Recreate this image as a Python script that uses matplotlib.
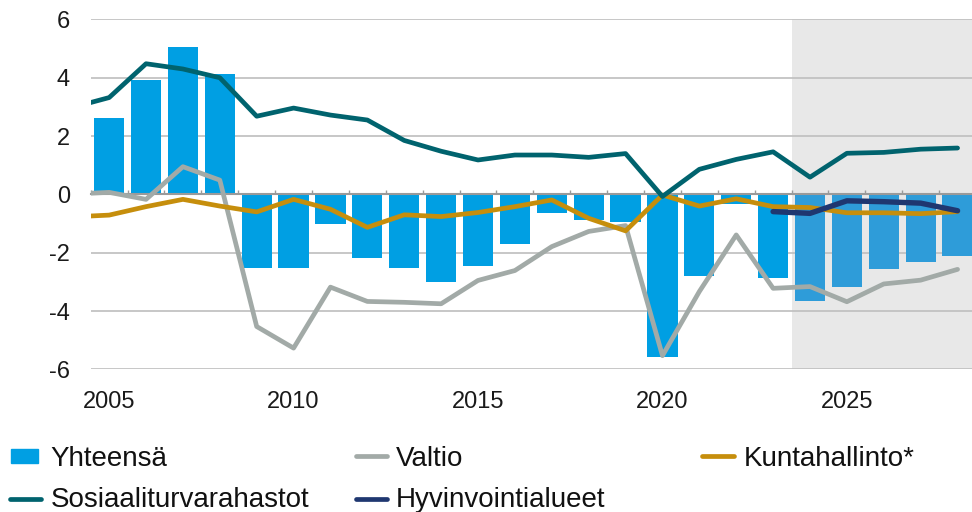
import numpy as np
import matplotlib.pyplot as plt
from matplotlib.patches import Rectangle
from matplotlib.lines import Line2D

plt.rcParams['font.family'] = ['Liberation Sans', 'DejaVu Sans']
plt.rcParams['axes.unicode_minus'] = False

# Data, % of GDP
bar_years = list(range(2005, 2029))
yhteensa = [2.62, 3.92, 5.07, 4.14, -2.51, -2.54, -1.03, -2.17, -2.52, -2.99, -2.44, -1.71,
            -0.65, -0.87, -0.95, -5.57, -2.81, -0.32, -2.88, -3.66, -3.19, -2.55, -2.32, -2.12]

line_years = list(range(2004, 2029))
valtio = [0.01, 0.07, -0.17, 0.95, 0.49, -4.53, -5.27, -3.18, -3.67, -3.70, -3.75, -2.95, -2.61,
          -1.79, -1.27, -1.07, -5.53, -3.33, -1.39, -3.22, -3.16, -3.68, -3.07, -2.94, -2.57]
kuntahallinto = [-0.77, -0.71, -0.42, -0.17, -0.40, -0.60, -0.17, -0.51, -1.13, -0.70, -0.76, -0.62, -0.42,
                 -0.19, -0.82, -1.25, -0.02, -0.40, -0.15, -0.42, -0.45, -0.63, -0.63, -0.66, -0.59]
sosiaaliturva = [2.98, 3.32, 4.48, 4.30, 4.00, 2.68, 2.96, 2.72, 2.55, 1.85, 1.48, 1.18, 1.35,
                 1.35, 1.27, 1.40, -0.07, 0.86, 1.20, 1.46, 0.59, 1.41, 1.44, 1.55, 1.59]

hyvinvointi_years = list(range(2023, 2029))
hyvinvointi = [-0.59, -0.65, -0.22, -0.25, -0.30, -0.56]

forecast_start = 2024
label_years = [2005, 2010, 2015, 2020, 2025]

C_BAR = '#009FE3'
C_BAR_FC = '#2E9CD9'
C_VALTIO = '#A2AAA7'
C_KUNTA = '#C68E0C'
C_SOSI = '#00636E'
C_HYVI = '#1F3770'

W, H = 972, 512
fig = plt.figure(figsize=(W / 100, H / 100), dpi=100)
ax = fig.add_axes([90.7 / W, 1 - 369.4 / H, (976 - 90.7) / W, 350 / H])

# forecast shading
ax.axvspan(forecast_start - 0.5, 2029, color='#E8E8E8', lw=0, zorder=0)

colors = [C_BAR_FC if y >= forecast_start else C_BAR for y in bar_years]
ax.bar(bar_years, yhteensa, width=0.82, color=colors, zorder=1.5)

lw = 3.4
ax.plot(line_years, valtio, color=C_VALTIO, lw=lw, zorder=3, solid_capstyle='round', solid_joinstyle='round')
ax.plot(line_years, kuntahallinto, color=C_KUNTA, lw=lw, zorder=3, solid_capstyle='round', solid_joinstyle='round')
ax.plot(line_years, sosiaaliturva, color=C_SOSI, lw=lw, zorder=3, solid_capstyle='round', solid_joinstyle='round')
ax.plot(hyvinvointi_years, hyvinvointi, color=C_HYVI, lw=3.9, zorder=3, solid_capstyle='round', solid_joinstyle='round')

ax.set_xlim(2004.5, 2028.5)
ax.set_ylim(-6, 6)
ax.set_yticks(np.arange(-6, 7, 2))
ax.set_yticklabels([str(v) for v in range(-6, 7, 2)])
ax.tick_params(axis='y', length=0, pad=15, labelsize=17, labelcolor='#1a1a1a')
ax.set_axisbelow(True)
ax.yaxis.grid(True, color='#BEBEBE', lw=1.2)

for side in ['left', 'right', 'top']:
    ax.spines[side].set_visible(False)
ax.spines['bottom'].set_position(('data', 0))
ax.spines['bottom'].set_color('#9A9A9A')
ax.spines['bottom'].set_linewidth(1.5)
ax.spines['bottom'].set_zorder(2)

# category boundary ticks on the zero line, year labels below the plot
ax.set_xticks(np.arange(2004.5, 2029, 1))
ax.set_xticklabels([])
ax.tick_params(axis='x', direction='in', length=3, width=1, color='#9A9A9A')
for y in label_years:
    ax.text(y, -39 / 350, str(y), transform=ax.get_xaxis_transform(),
            ha='center', va='baseline', fontsize=17, color='#1a1a1a')

# legend, drawn by hand in figure pixels
def fx(px):
    return px / W

def fy(py):
    return 1 - py / H

fig.add_artist(Rectangle((fx(11), fy(463)), fx(27), 14 / H, color=C_BAR, transform=fig.transFigure))
legend_lines = [
    (356, 387, 456, C_VALTIO),
    (702, 734, 456, C_KUNTA),
    (10, 41, 499, C_SOSI),
    (356, 387, 499, C_HYVI),
]
for x0, x1, yy, c in legend_lines:
    fig.add_artist(Line2D([fx(x0), fx(x1)], [fy(yy), fy(yy)], color=c, lw=3.4,
                          solid_capstyle='round', transform=fig.transFigure))

legend_texts = [
    (50.7, 466, 'Yhteensä'),
    (396, 466, 'Valtio'),
    (744, 466, 'Kuntahallinto*'),
    (50.7, 507, 'Sosiaaliturvarahastot'),
    (396, 507, 'Hyvinvointialueet'),
]
for x, yb, t in legend_texts:
    fig.text(fx(x), fy(yb), t, fontsize=20, va='baseline', ha='left', color='#111111')

fig.savefig('out.png', dpi=100)
